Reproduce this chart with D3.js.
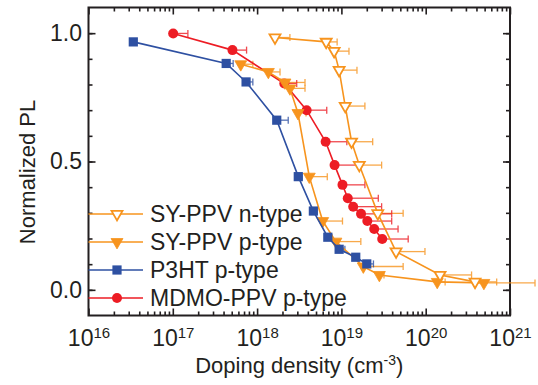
<!DOCTYPE html>
<meta charset="utf-8">
<style>
  body { margin: 0; background: #fff; }
  text { font-family: "Liberation Sans", Arial, Helvetica, sans-serif; fill: #231f20; }
  .axis line { stroke: #231f20; stroke-width: 1.6px; }
  .axis path { display: none; }
</style>
<body>
<script src="https://cdn.jsdelivr.net/npm/d3@7"></script>
<script>
  // series values (x in cm^-3, y normalized PL, xHi = right end of error bar)
  var nTypeX = [1.63e18, 6.6e18, 8.2e18, 9.4e18, 1.11e19, 1.32e19, 1.63e19, 2.7e19, 4.45e19, 1.48e20, 3.85e20];
  var nTypeY = [0.983, 0.966, 0.930, 0.856, 0.716, 0.577, 0.486, 0.298, 0.149, 0.058, 0.031];
  var nTypeXHi = [2.45e18, 8.9e18, 1.23e19, 1.53e19, 1.9e19, 2.35e19, 3.0e19, 5.4e19, 9.8e19, 3.5e20, 6.95e20];

  var pTypeX = [6.4e17, 1.36e18, 2.14e18, 2.45e18, 3.05e18, 4.16e18, 6.0e18, 8.6e18, 1.82e19, 2.82e19, 1.37e20, 4.9e20];
  var pTypeY = [0.879, 0.849, 0.808, 0.785, 0.689, 0.441, 0.268, 0.188, 0.091, 0.058, 0.031, 0.027];
  var pTypeXHi = [8.9e17, 1.87e18, 3.7e18, 3.7e18, 3.8e18, 6.8e18, 1.03e19, 1.7e19, 5.4e19, 3.2e19, 1.7e20, 1.98e21];

  var p3htX = [3.4e16, 4.3e17, 7.4e17, 1.71e18, 3.08e18, 4.65e18, 6.9e18, 9.4e18, 1.48e19, 2.0e19];
  var p3htY = [0.966, 0.882, 0.810, 0.661, 0.441, 0.307, 0.205, 0.158, 0.127, 0.101];
  var p3htXHi = [3.4e16, 5.2e17, 8.9e17, 2.34e18, 3.4e18, 4.9e18, 7.7e18, 1.1e19, 1.6e19, 2.4e19];

  var mdmoX = [1.01e17, 5.1e17, 2.1e18, 3.87e18, 6.5e18, 8.3e18, 1.03e19, 1.19e19, 1.38e19, 1.71e19, 2.03e19, 2.45e19, 3.05e19];
  var mdmoY = [0.999, 0.934, 0.804, 0.700, 0.577, 0.486, 0.409, 0.357, 0.324, 0.296, 0.268, 0.237, 0.198];
  var mdmoXHi = [1.51e17, 7.5e17, 2.95e18, 6.7e18, 1.16e19, 1.57e19, 1.9e19, 2.74e19, 3.0e19, 3.95e19, 3.95e19, 4.7e19, 6.2e19];

  var legendLabels = ["SY-PPV n-type", "SY-PPV p-type", "P3HT p-type", "MDMO-PPV p-type"];
  var xTickExps = [16, 17, 18, 19, 20, 21];
  var yTicks = [0, 0.5, 1.0];

  var orange = "#f7941e", red = "#ed1c24", blue = "#2e50a2";

  var series = [
    {name: legendLabels[0], x: nTypeX, y: nTypeY, hi: nTypeXHi, color: orange, shape: "tri", open: true},
    {name: legendLabels[1], x: pTypeX, y: pTypeY, hi: pTypeXHi, color: orange, shape: "tri", open: false},
    {name: legendLabels[2], x: p3htX, y: p3htY, hi: p3htXHi, color: blue, shape: "sq", open: false},
    {name: legendLabels[3], x: mdmoX, y: mdmoY, hi: mdmoXHi, color: red, shape: "circ", open: false}
  ];

  var W = 538, H = 385,
      pLeft = 88.5, pRight = 510, pTop = 7.5, pBottom = 315.5;

  var svg = d3.select("body").append("svg")
    .attr("width", W)
    .attr("height", H);

  var x = d3.scaleLog().domain([1e16, 1e21]).range([pLeft, pRight]);
  var y = d3.scaleLinear().domain([-0.1, 1.1]).range([pBottom, pTop]);

  var majorX = xTickExps.map(function(e) { return Math.pow(10, e); });
  var minorX = [];
  for (var e = 16; e < 21; e++) {
    for (var m = 2; m <= 9; m++) minorX.push(m * Math.pow(10, e));
  }
  var minorY = d3.range(0, 11).map(function(v) { return v / 10; });

  // minor ticks, all four sides
  svg.append("g").attr("class", "axis").attr("transform", "translate(0," + pBottom + ")")
    .call(d3.axisBottom(x).tickValues(minorX).tickSize(-4).tickFormat(""));
  svg.append("g").attr("class", "axis").attr("transform", "translate(0," + pTop + ")")
    .call(d3.axisTop(x).tickValues(minorX).tickSize(-4).tickFormat(""));
  svg.append("g").attr("class", "axis").attr("transform", "translate(" + pLeft + ",0)")
    .call(d3.axisLeft(y).tickValues(minorY).tickSize(-4).tickFormat(""));
  svg.append("g").attr("class", "axis").attr("transform", "translate(" + pRight + ",0)")
    .call(d3.axisRight(y).tickValues(minorY).tickSize(-4).tickFormat(""));

  // major ticks
  var xAxis = svg.append("g").attr("class", "axis").attr("transform", "translate(0," + pBottom + ")")
    .call(d3.axisBottom(x).tickValues(majorX).tickSize(-7).tickPadding(14));
  xAxis.selectAll("text")
    .style("font-size", "23px")
    .text(null)
    .each(function(d) {
      var t = d3.select(this);
      t.append("tspan").text("10");
      t.append("tspan").attr("dy", "-0.5em").style("font-size", "15px").text(Math.round(Math.log10(d)));
    });
  svg.append("g").attr("class", "axis").attr("transform", "translate(0," + pTop + ")")
    .call(d3.axisTop(x).tickValues(majorX).tickSize(-7).tickFormat(""));

  svg.append("g").attr("class", "axis").attr("transform", "translate(" + pLeft + ",0)")
    .call(d3.axisLeft(y).tickValues(yTicks).tickSize(-7).tickPadding(6.5).tickFormat(d3.format(".1f")))
    .selectAll("text").style("font-size", "23px");
  svg.append("g").attr("class", "axis").attr("transform", "translate(" + pRight + ",0)")
    .call(d3.axisRight(y).tickValues(yTicks).tickSize(-7).tickFormat(""));

  // frame
  svg.append("rect")
    .attr("x", pLeft).attr("y", pTop)
    .attr("width", pRight - pLeft).attr("height", pBottom - pTop)
    .style("fill", "none").style("stroke", "#231f20").style("stroke-width", "2px");

  // axis titles
  var xt = svg.append("text")
    .attr("x", (pLeft + pRight) / 2).attr("y", 373)
    .attr("text-anchor", "middle")
    .style("font-size", "22px");
  xt.append("tspan").text("Doping density (cm");
  xt.append("tspan").attr("dy", "-0.55em").style("font-size", "14px").text("-3");
  xt.append("tspan").attr("dy", "0.36em").text(")");

  svg.append("text")
    .attr("transform", "translate(35," + 172 + ") rotate(-90)")
    .attr("text-anchor", "middle")
    .style("font-size", "22px")
    .text("Normalized PL");

  function marker(sel, s, cx, cy) {
    if (s.shape === "circ") {
      sel.append("circle").attr("cx", cx).attr("cy", cy).attr("r", 5)
        .style("fill", s.color);
    } else if (s.shape === "sq") {
      sel.append("rect").attr("x", cx - 4.6).attr("y", cy - 4.6).attr("width", 9.2).attr("height", 9.2)
        .style("fill", s.color);
    } else {
      sel.append("path")
        .attr("d", d3.symbol().type(d3.symbolTriangle).size(s.open ? 52 : 62)())
        .attr("transform", "translate(" + cx + "," + cy + ") rotate(180)")
        .style("fill", s.open ? "#fff" : s.color)
        .style("stroke", s.color)
        .style("stroke-width", s.open ? 1.8 : 0.8);
    }
  }

  var plot = svg.append("g");

  // error bars (right side only)
  series.forEach(function(s) {
    var g = plot.append("g").style("stroke", s.color).style("stroke-width", 1.3).style("opacity", 0.8);
    s.x.forEach(function(v, i) {
      var y0 = y(s.y[i]), x0 = x(v), x1 = x(s.hi[i]);
      if (x1 - x0 < 1) return;
      g.append("line").attr("x1", x0).attr("x2", x1).attr("y1", y0).attr("y2", y0);
      g.append("line").attr("x1", x1).attr("x2", x1).attr("y1", y0 - 3.5).attr("y2", y0 + 3.5);
    });
  });

  var line = d3.line().x(function(d) { return x(d[0]); }).y(function(d) { return y(d[1]); });

  [3, 1, 0, 2].forEach(function(k) {
    var s = series[k];
    var pts = s.x.map(function(v, i) { return [v, s.y[i]]; });
    plot.append("path").datum(pts)
      .attr("d", line)
      .style("fill", "none")
      .style("stroke", s.color)
      .style("stroke-width", 1.6);
    var g = plot.append("g");
    pts.forEach(function(p) { marker(g, s, x(p[0]), y(p[1])); });
  });

  // legend
  var legendY = [214, 242, 270, 298];
  series.forEach(function(s, i) {
    var g = svg.append("g");
    g.append("line")
      .attr("x1", pLeft).attr("x2", 143)
      .attr("y1", legendY[i]).attr("y2", legendY[i])
      .style("stroke", s.color).style("stroke-width", 1.6);
    marker(g, s, 117, legendY[i]);
    g.append("text")
      .attr("x", 150).attr("y", legendY[i]).attr("dy", "0.36em")
      .style("font-size", "23px")
      .text(s.name);
  });
</script>
</body>
